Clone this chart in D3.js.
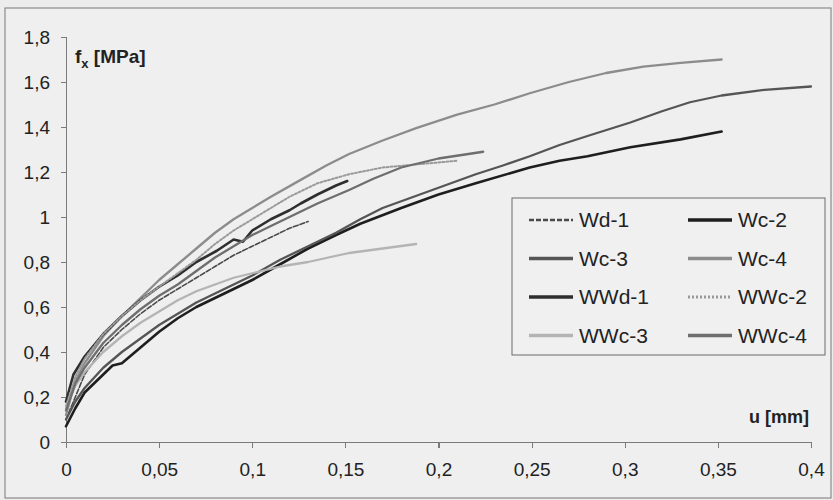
<!DOCTYPE html>
<html lang="en">
<head>
<meta charset="UTF-8"/>
<title>fx - u</title>
<script src="https://d3js.org/d3.v7.min.js"></script>
<style>
    body { margin: 0; background: #ececec; }
    text { font-family: "Liberation Sans", Arial, sans-serif; fill: #222; }
    .axis path, .axis line { stroke: #7a7a7a; stroke-width: 1.2px; shape-rendering: crispEdges; }
    .axis text { font-size: 19px; fill: #222; }
    path.curve { fill: none; stroke-linejoin: round; stroke-linecap: round; }
</style>
</head>
<body>
<svg id="chart" width="833" height="500"></svg>
<script>
// tick values
var xTicks = [0, 0.05, 0.1, 0.15, 0.2, 0.25, 0.3, 0.35, 0.4];
var yTicks = [0, 0.2, 0.4, 0.6, 0.8, 1, 1.2, 1.4, 1.6, 1.8];

// series names (legend order)
var names = ["Wd-1", "Wc-2", "Wc-3", "Wc-4", "WWd-1", "WWc-2", "WWc-3", "WWc-4"];

// series values [u (mm), fx (MPa)]
var wd1 = [[0,0.1],[0.01,0.3],[0.02,0.42],[0.03,0.5],[0.04,0.57],[0.05,0.63],[0.06,0.68],[0.07,0.73],
    [0.08,0.78],[0.09,0.83],[0.1,0.87],[0.11,0.91],[0.12,0.95],[0.13,0.98]];
var wc2 = [[0,0.07],[0.005,0.15],[0.01,0.22],[0.02,0.3],[0.025,0.34],[0.03,0.35],[0.04,0.42],[0.05,0.49],
    [0.06,0.55],[0.07,0.6],[0.08,0.64],[0.09,0.68],[0.1,0.72],[0.115,0.79],[0.13,0.86],[0.145,0.92],
    [0.158,0.97],[0.18,1.04],[0.2,1.1],[0.22,1.15],[0.249,1.22],[0.265,1.25],[0.28,1.27],[0.303,1.31],
    [0.33,1.345],[0.352,1.38]];
var wc3 = [[0,0.1],[0.005,0.18],[0.01,0.24],[0.02,0.33],[0.03,0.4],[0.04,0.46],[0.05,0.52],[0.06,0.57],
    [0.07,0.62],[0.08,0.66],[0.09,0.7],[0.1,0.74],[0.115,0.81],[0.13,0.87],[0.145,0.93],[0.158,0.99],
    [0.17,1.04],[0.18,1.07],[0.2,1.13],[0.22,1.19],[0.235,1.23],[0.249,1.27],[0.265,1.32],[0.28,1.36],
    [0.303,1.42],[0.32,1.47],[0.335,1.51],[0.352,1.54],[0.375,1.565],[0.4,1.58]];
var wc4 = [[0,0.12],[0.005,0.27],[0.01,0.35],[0.02,0.47],[0.03,0.56],[0.04,0.64],[0.05,0.72],[0.06,0.79],
    [0.07,0.86],[0.08,0.93],[0.09,0.99],[0.1,1.04],[0.11,1.09],[0.126,1.165],[0.14,1.23],[0.152,1.28],
    [0.17,1.34],[0.188,1.395],[0.21,1.455],[0.23,1.5],[0.249,1.55],[0.27,1.6],[0.29,1.64],[0.31,1.668],
    [0.33,1.685],[0.352,1.7]];
var wwd1 = [[0,0.18],[0.004,0.3],[0.01,0.38],[0.02,0.48],[0.03,0.56],[0.04,0.63],[0.05,0.69],[0.06,0.74],
    [0.07,0.8],[0.081,0.85],[0.09,0.9],[0.095,0.89],[0.1,0.94],[0.11,0.99],[0.12,1.03],[0.126,1.06],
    [0.135,1.1],[0.145,1.14],[0.151,1.16]];
var wwc2 = [[0,0.16],[0.005,0.29],[0.01,0.37],[0.02,0.48],[0.03,0.56],[0.04,0.63],[0.05,0.69],[0.06,0.75],
    [0.07,0.81],[0.08,0.88],[0.09,0.94],[0.1,0.99],[0.11,1.04],[0.12,1.09],[0.135,1.15],[0.152,1.19],
    [0.17,1.22],[0.19,1.235],[0.21,1.25]];
var wwc3 = [[0,0.15],[0.005,0.25],[0.01,0.31],[0.02,0.4],[0.03,0.47],[0.04,0.53],[0.05,0.58],[0.06,0.63],
    [0.07,0.67],[0.08,0.7],[0.09,0.73],[0.1,0.75],[0.115,0.78],[0.13,0.8],[0.152,0.84],[0.17,0.86],
    [0.188,0.88]];
var wwc4 = [[0,0.14],[0.005,0.26],[0.01,0.33],[0.02,0.44],[0.03,0.52],[0.04,0.59],[0.05,0.65],[0.06,0.7],
    [0.07,0.76],[0.08,0.82],[0.09,0.87],[0.1,0.92],[0.11,0.96],[0.12,1.0],[0.135,1.06],[0.152,1.12],
    [0.165,1.17],[0.18,1.22],[0.2,1.26],[0.224,1.29]];

var values = [wd1, wc2, wc3, wc4, wwd1, wwc2, wwc3, wwc4];
var colors = ["#4a4a4a", "#1e1e1e", "#555555", "#8c8c8c", "#2e2e2e", "#9a9a9a", "#b4b4b4", "#6e6e6e"];
var widths = [1.6, 2.6, 2.3, 2.3, 2.6, 2, 2.3, 2.3];
var dashes = ["5,2", null, null, null, null, "2,2", null, null];

var svg = d3.select("#chart");

// outer frame
svg.append("rect")
    .attr("x", 5).attr("y", 8).attr("width", 826).attr("height", 490)
    .attr("fill", "#efefef").attr("stroke", "#8a8a8a").attr("stroke-width", 1.2);

var x = d3.scaleLinear().domain([0, 0.4]).range([66, 811]);
var y = d3.scaleLinear().domain([0, 1.8]).range([442, 37]);

var locale = d3.formatLocale({decimal: ",", thousands: " ", grouping: [3], currency: ["", ""]});
var fmt = locale.format("~g");

// axes
svg.append("g")
    .attr("class", "axis")
    .attr("transform", "translate(0," + y(0) + ")")
    .call(d3.axisBottom(x).tickValues(xTicks).tickFormat(fmt).tickSizeOuter(0).tickSize(6).tickPadding(15));

svg.append("g")
    .attr("class", "axis")
    .attr("transform", "translate(" + x(0) + ",0)")
    .call(d3.axisLeft(y).tickValues(yTicks).tickFormat(fmt).tickSizeOuter(0).tickSize(5).tickPadding(11));

// curves
var line = d3.line()
    .x(function (d) { return x(d[0]); })
    .y(function (d) { return y(d[1]); });

svg.append("g")
    .selectAll("path")
    .data(values)
    .enter()
    .append("path")
    .attr("class", "curve")
    .attr("d", line)
    .attr("stroke", function (d, i) { return colors[i]; })
    .attr("stroke-width", function (d, i) { return widths[i]; })
    .attr("stroke-dasharray", function (d, i) { return dashes[i]; });

// axis titles
var ty = svg.append("text")
    .attr("x", 75).attr("y", 63)
    .style("font-size", "19px").style("font-weight", "bold");
ty.append("tspan").text("f");
ty.append("tspan").attr("dy", 5).style("font-size", "13px").text("x");
ty.append("tspan").attr("dy", -5).text(" [MPa]");

svg.append("text")
    .attr("x", 809).attr("y", 423)
    .attr("text-anchor", "end")
    .style("font-size", "18px").style("font-weight", "bold")
    .text("u [mm]");

// legend
var legend = svg.append("g");
legend.append("rect")
    .attr("x", 512).attr("y", 198).attr("width", 313).attr("height", 157)
    .attr("fill", "#f0f0f0").attr("stroke", "#6a6a6a").attr("stroke-width", 1);

var item = legend.selectAll("g.item")
    .data(names)
    .enter()
    .append("g")
    .attr("class", "item")
    .attr("transform", function (d, i) {
        return "translate(" + (i % 2 === 0 ? 529 : 688) + "," + (220 + Math.floor(i / 2) * 38.5) + ")";
    });

item.append("line")
    .attr("x1", 0).attr("x2", 44)
    .attr("stroke", function (d, i) { return colors[i]; })
    .attr("stroke-width", function (d, i) { return widths[i] + 1; })
    .attr("stroke-dasharray", function (d, i) { return dashes[i]; });

item.append("text")
    .attr("x", 50).attr("dy", "0.35em")
    .style("font-size", "21px")
    .text(function (d) { return d; });
</script>
</body>
</html>
